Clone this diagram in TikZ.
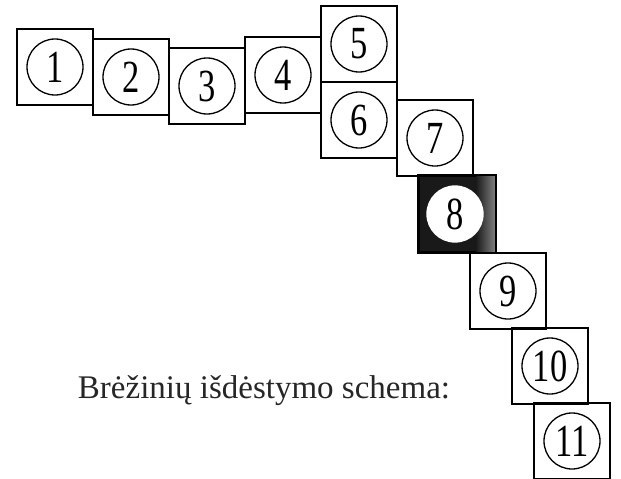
\documentclass[tikz,border=0pt]{standalone}
\usepackage{fontspec}
\setmainfont{Liberation Serif}
\newcommand{\numero}[1]{\scalebox{0.75}[1]{#1}}
\begin{document}
\begin{tikzpicture}[x=1pt,y=-1pt,
	lapas/.style={draw, line width=1.7pt, rectangle, minimum size=76pt, inner sep=0pt},
	tamsus/.style={lapas, fill=black!90},
	numeris/.style={draw, line width=1.3pt, circle, minimum size=56pt, inner sep=0pt,
		font=\fontsize{46}{46}\selectfont},
	baltas/.style={numeris, fill=white, draw=white}]
	%\draw[help lines] (0,0) grid[step=50] (621,479);
	\useasboundingbox (0,0) rectangle (621,479);
	\path
		(55,67)   node[lapas] (b1) {}
		(131,77)  node[lapas] (b2) {}
		(207,86)  node[lapas] (b3) {}
		(283,75)  node[lapas] (b4) {}
		(359,44)  node[lapas] (b5) {}
		(359,120) node[lapas] (b6) {}
		(435,138) node[lapas] (b7) {}
		(457,214) node[tamsus] (b8) {}
		(508,291) node[lapas] (b9) {}
		(550,366) node[lapas] (b10) {}
		(572,441) node[lapas] (b11) {}
	;
	% sviesesne juosta desineje
	\shade[left color=black!90, right color=black!50]
		([xshift=-20pt]b8.north east) rectangle ([xshift=-0.8pt,yshift=-0.8pt]b8.south east);
	\draw[line width=1.7pt] (b8.south west) rectangle (b8.north east);
	\path
		(b1)  node[numeris] (n1)  {\numero{1}}
		(b2)  node[numeris] (n2)  {\numero{2}}
		(b3)  node[numeris] (n3)  {\numero{3}}
		(b4)  node[numeris] (n4)  {\numero{4}}
		(b5)  node[numeris] (n5)  {\numero{5}}
		(b6)  node[numeris] (n6)  {\numero{6}}
		(b7)  node[numeris] (n7)  {\numero{7}}
		([xshift=-2pt]b8) node[baltas] (n8) {\numero{8}}
		(b9)  node[numeris] (n9)  {\numero{9}}
		(b10) node[numeris] (n10) {\numero{10}}
		(b11) node[numeris] (n11) {\numero{11}}
	;
	\node[anchor=base, font=\fontsize{33}{33}\selectfont, text=black!85] (schema) at (264,398)
		{Brėžinių išdėstymo schema:};
\end{tikzpicture}
\end{document}
